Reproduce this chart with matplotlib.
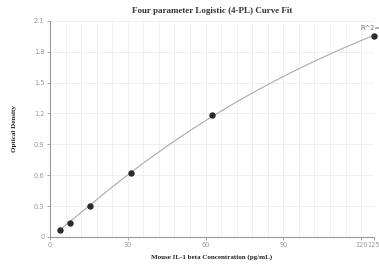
import numpy as np
import matplotlib
matplotlib.use("Agg")
import matplotlib.pyplot as plt

# Data
conc = [3.9, 7.8, 15.6, 31.25, 62.5, 125]
od = [0.07, 0.14, 0.30, 0.62, 1.19, 1.95]
x_ticks = [0, 30, 60, 90, 120, 125]
y_ticks = [0, 0.3, 0.6, 0.9, 1.2, 1.5, 1.8, 2.1]
y_tick_labels = ["0", "0.3", "0.6", "0.9", "1.2", "1.5", "1.8", "2.1"]

# 4PL fit parameters (bottom, slope, mid, top)
A, B, C, D = 0.0, 1.1, 175.0, 4.8

fig = plt.figure(figsize=(3.79, 2.68), dpi=100)
ax = fig.add_axes([0.132, 0.116, 0.855, 0.806])

xc = np.linspace(min(conc), max(conc), 300)
yc = D + (A - D) / (1 + (xc / C) ** B)
ax.plot(xc, yc, color="#aaaaaa", lw=0.8, zorder=2)
ax.plot(conc, od, "o", color="#2b2b2b", ms=3.6, zorder=3, clip_on=False)

ax.set_xlim(0, 125)
ax.set_ylim(0, 2.1)
ax.set_xticks(x_ticks)
ax.set_xticklabels([str(t) for t in x_ticks])
ax.set_yticks(y_ticks)
ax.set_yticklabels(y_tick_labels)

# grid
for gx in np.arange(6, 125, 6):
    ax.axvline(gx, color="#efefef", lw=0.6, zorder=0)
for gy in y_ticks[1:]:
    ax.axhline(gy, color="#ececec", lw=0.6, zorder=0)

for s in ["top", "right"]:
    ax.spines[s].set_visible(False)
for s in ["left", "bottom"]:
    ax.spines[s].set_color("#999999")
    ax.spines[s].set_linewidth(0.8)
ax.tick_params(colors="#999999", labelsize=4.8, length=2.5, width=0.6, pad=1.5)
for lab in ax.get_xticklabels() + ax.get_yticklabels():
    lab.set_color("#999999")

ax.text(123.5, 1.95 + 0.05, "R^2=", ha="center", va="bottom", fontsize=4.8,
        color="#777777", clip_on=False)

ax.set_title("Four parameter Logistic (4-PL) Curve Fit", fontsize=6.5, fontweight="bold",
             family="Liberation Serif", color="#333333", pad=6)
ax.set_xlabel("Mouse IL-1 beta Concentration (pg/mL)", fontsize=5, fontweight="bold",
              family="Liberation Serif", color="#222222", labelpad=4)
ax.set_ylabel("Optical Density", fontsize=5, fontweight="bold",
              family="Liberation Serif", color="#222222", labelpad=12)

fig.savefig("out.png", dpi=100)
